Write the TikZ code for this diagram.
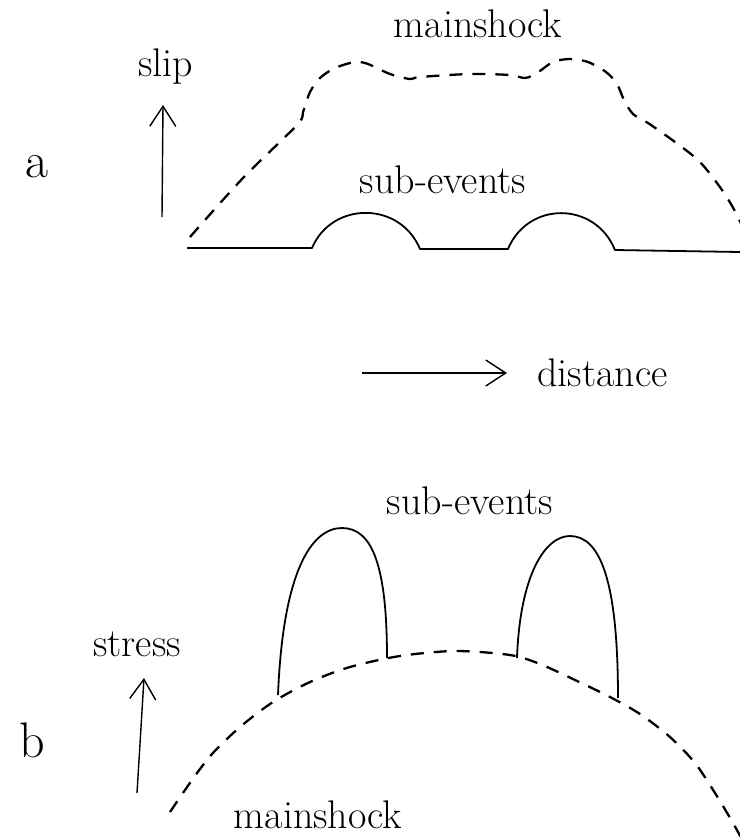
\documentclass[tikz,border=0pt]{standalone}
\usepackage{tikz}
\usetikzlibrary{arrows.meta, positioning}

\begin{document}
\begin{tikzpicture}[
  x=0.5pt, y=-0.5pt,
  every node/.style={font=\fontsize{20}{24}\selectfont, inner sep=0pt, anchor=base},
  panel/.style={font=\fontsize{25}{28}\selectfont},
  trace/.style={line width=0.9pt, line join=round},
  envelope/.style={line width=1.15pt, dash pattern=on 6.5pt off 5pt},
  arrow/.style={-{Straight Barb[length=10pt, width=13pt]}, line width=0.7pt}
]
\useasboundingbox (0,0) rectangle (740,837);

% panel a: slip
\node[panel] (labA) at (37,177) {a};
\coordinate (slip0) at (162,217);
\coordinate (slip1) at (163,105);
\draw[arrow] (slip0) -- (slip1);
\node[above=10pt of slip1, xshift=1.5pt] (slipLbl) {slip};
\node (mainA) at (478,37) {mainshock};
\node (subA)  at (443,193) {sub-events};

\draw[envelope] plot[smooth, tension=0.5] coordinates {
  (190,237) (243,178) (297,125) (303,112) (310,92) (320,78) (335,68)
  (355,62) (368,64) (390,74) (410,79) (420,77) (470,74) (510,75)
  (525,78) (537,73) (553,62) (570,59) (588,62) (606,72) (617,84)
  (624,100) (633,114) (648,123) (675,142) (700,162) (722,190)
  (737,215) (750,245)};

\draw[trace] (187,248) -- (312,248)
  .. controls (332,201) and (400,201) .. (420,249) -- (508,249)
  .. controls (528,201) and (595,201) .. (615,250) -- (740,252);

% distance axis
\coordinate (dist0) at (362,373);
\coordinate (dist1) at (507,373);
\draw[arrow] (dist0) -- (dist1);
\node[right=15pt of dist1] (distLbl) {distance};

% panel b: stress
\node[panel] (labB) at (32,757) {b};
\coordinate (stress0) at (137,793);
\coordinate (stress1) at (144,678);
\draw[arrow] (stress0) -- (stress1);
\node (stressLbl) at (137,656) {stress};
\node (subB)  at (470,514) {sub-events};
\node (mainB) at (318,828) {mainshock};

\draw[envelope] plot[smooth, tension=0.5] coordinates {
  (170,812) (192,780) (212,754) (240,727) (273,702) (310,682)
  (350,667) (400,656) (455,651) (510,655) (540,664) (575,680)
  (610,697) (640,714) (670,737) (695,763) (715,793) (733,823)
  (745,845)};

\draw[trace] (278,695) .. controls (283,570) and (312,528) .. (342,528)
  .. controls (372,528) and (387,565) .. (387,658);
\draw[trace] (517,658) .. controls (520,575) and (545,536) .. (570,536)
  .. controls (600,536) and (618,580) .. (618,698);
\end{tikzpicture}
\end{document}
